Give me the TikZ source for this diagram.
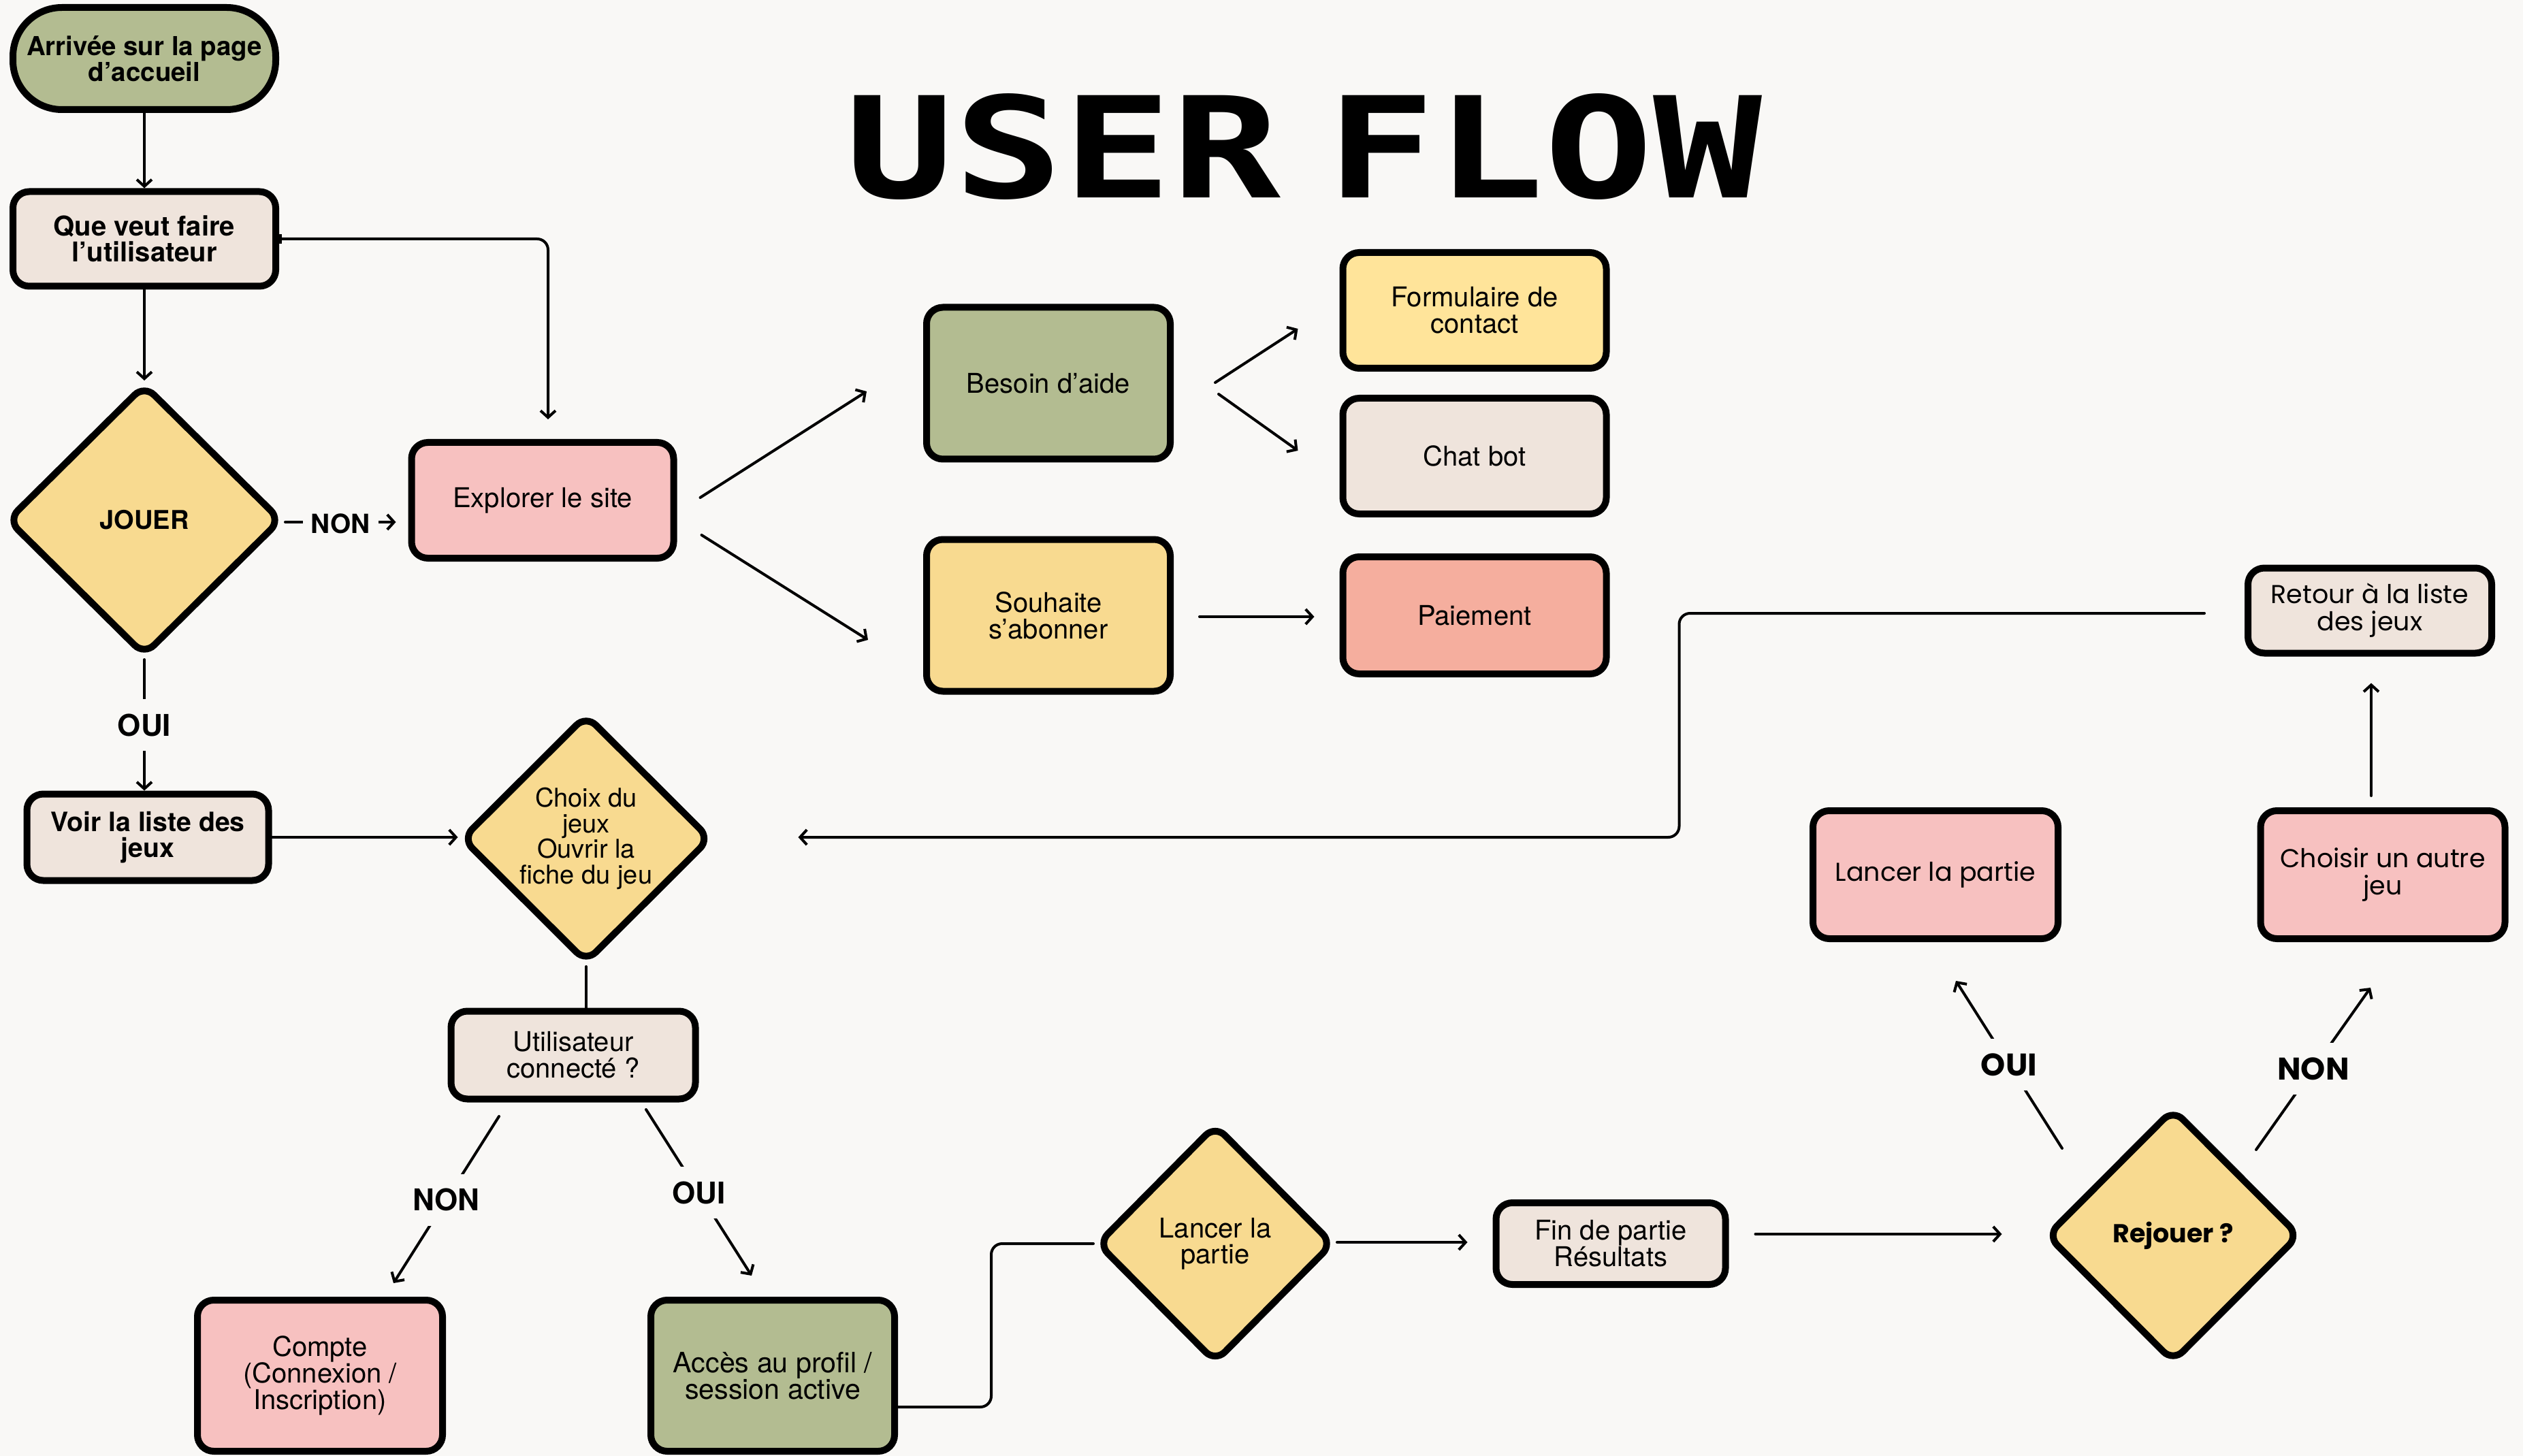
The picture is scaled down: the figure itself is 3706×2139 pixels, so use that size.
\documentclass[tikz,border=0pt]{standalone}
\usepackage{fontspec}
\usepackage{graphicx}
\setmainfont{TeX Gyre Heros}
\newfontfamily\popf{Poppins}
\newfontfamily\titlef{DejaVu Sans Mono}
\usetikzlibrary{shapes.geometric,arrows.meta,calc}
\definecolor{bgc}{HTML}{F9F8F6}
\definecolor{cOlive}{HTML}{B3BC91}
\definecolor{cBeige}{HTML}{EFE4DC}
\definecolor{cPink}{HTML}{F7C1C0}
\definecolor{cYellow}{HTML}{F8DA90}
\definecolor{cLightYellow}{HTML}{FFE49A}
\definecolor{cSalmon}{HTML}{F5AE9E}
\tikzset{
  base/.style={draw=black, line width=2.5pt, inner sep=0pt, align=center, text=black},
  box/.style={base, rectangle, rounded corners=6pt, font=\fontsize{10}{9.75}\selectfont},
  dia/.style={base, diamond, rounded corners=5pt, font=\fontsize{9.5}{9.4}\selectfont},
  pbox/.style={box, font=\popf\fontsize{9.5}{10}\selectfont},
  conn/.style={line width=1pt, line cap=round, line join=round},
  arr/.style={conn, -{Straight Barb[length=2.5pt,width=5.5pt]}},
  lab/.style={fill=bgc, inner xsep=3pt, inner ysep=5.5pt, text height=8pt, text depth=0pt, font=\fontsize{11}{11}\selectfont\bfseries},
  plab/.style={lab, font=\popf\fontsize{11.5}{11.5}\selectfont\bfseries},
}
\begin{document}
\begin{tikzpicture}[x=0.25pt,y=-0.25pt]
\fill[bgc] (0,0) rectangle (3706,2139);
\useasboundingbox (0,0) rectangle (3706,2139);

% title
\node[inner sep=0pt] (title) at (1915,215.5) {\resizebox{336.5pt}{38.25pt}{\titlef\bfseries USER\hspace{0.25em}FLOW}};

% left column
\node[box, fill=cOlive, rounded corners=18pt, minimum width=96.5pt, minimum height=37.5pt, font=\fontsize{9.6}{9.6}\selectfont\bfseries] (arrivee) at (212,86) {Arrivée sur la page\\d’accueil};
\node[box, fill=cBeige, minimum width=96.5pt, minimum height=34.75pt, font=\fontsize{10}{9.5}\selectfont\bfseries] (que) at (212,351) {Que veut faire\\l’utilisateur};
\node[dia, fill=cYellow, minimum width=101pt, minimum height=100pt, font=\fontsize{9.5}{9.5}\selectfont\bfseries] (jouer) at (212,764) {JOUER};
\node[box, fill=cPink, minimum width=96.25pt, minimum height=42.5pt] (explorer) at (797,735) {Explorer le site};
\node[box, fill=cBeige, minimum width=88.75pt, minimum height=31.75pt, font=\fontsize{9.8}{9.5}\selectfont\bfseries] (voir) at (217,1230) {Voir la liste des\\jeux};
\node[dia, fill=cYellow, minimum width=91.75pt, minimum height=91.5pt] (choix) at (861,1232) {Choix du\\jeux\\Ouvrir la\\fiche du jeu};
\node[box, fill=cBeige, minimum width=89.75pt, minimum height=32.25pt] (util) at (842,1550) {Utilisateur\\connecté ?};
\node[box, fill=cPink, minimum width=90pt, minimum height=55.5pt] (compte) at (470,2021) {Compte\\(Connexion /\\Inscription)};
\node[box, fill=cOlive, minimum width=89.5pt, minimum height=55.5pt, font=\fontsize{10.3}{9.75}\selectfont] (acces) at (1135,2021) {Accès au profil /\\session active};
\node[dia, fill=cYellow, minimum width=87pt, minimum height=87.75pt, font=\fontsize{10}{9.5}\selectfont] (lancerd) at (1785,1827) {Lancer la\\partie};
\node[box, fill=cBeige, minimum width=84.25pt, minimum height=30pt] (fin) at (2366,1827) {Fin de partie\\Résultats};

% help / subscription
\node[box, fill=cOlive, minimum width=89.5pt, minimum height=55.75pt] (besoin) at (1540,563) {Besoin d’aide};
\node[box, fill=cLightYellow, minimum width=96.75pt, minimum height=42.5pt] (formulaire) at (2166,456) {Formulaire de\\contact};
\node[box, fill=cBeige, minimum width=96.75pt, minimum height=42.5pt] (chat) at (2166,670) {Chat bot};
\node[box, fill=cYellow, minimum width=89.5pt, minimum height=55.75pt] (souhaite) at (1540,904) {Souhaite\\s’abonner};
\node[box, fill=cSalmon, minimum width=96.75pt, minimum height=43pt] (paiement) at (2166,904) {Paiement};

% right part
\node[dia, fill=cYellow, minimum width=93.25pt, minimum height=93.5pt, font=\popf\fontsize{9.5}{9.5}\selectfont\bfseries] (rejouer) at (3192,1815) {Rejouer ?};
\node[pbox, fill=cPink, minimum width=90pt, minimum height=47pt] (lancer) at (2843,1285) {Lancer la partie};
\node[pbox, fill=cPink, minimum width=89.75pt, minimum height=47pt] (choisir) at (3500,1285) {Choisir un autre\\jeu};
\node[pbox, fill=cBeige, minimum width=89.5pt, minimum height=31.25pt] (retour) at (3481,897) {Retour à la liste\\des jeux};

% connectors
\draw[arr] (arrivee) -- (que);
\draw[arr] (que) -- (jouer);
\draw[arr, rounded corners=4pt, {Bar[width=3.5pt]}-{Straight Barb[length=2.5pt,width=5.5pt]}] (que.east) -| ($(explorer.north)+(8,-29)$);
\draw[arr] ($(jouer.east)+(0,3)$) -- ($(jouer.east -| explorer.west)+(-18,3)$) node[lab, midway, font=\fontsize{9.7}{9.7}\selectfont\bfseries] {NON};
\draw[arr] (jouer.south) -- (jouer.south |- voir.north) node[lab, midway] {OUI};
\draw[arr] (voir.east) -- (voir.east -| choix.west);
\draw[conn] (choix.south) -- (choix.south |- util.north);
\draw[arr] ($(util.center)+(-109,90)$) -- ($(compte.center)+(108,-136)$) node[lab, midway] {NON};
\draw[arr] ($(util.center)+(107,80)$) -- ($(acces.center)+(-31,-147)$) node[lab, midway] {OUI};
\draw[conn, rounded corners=4pt] ($(acces.east)+(0,46)$) -| ($(lancerd.west)+(-150,0)$) -- (lancerd.west);
\draw[arr] ($(lancerd.east)+(0,-2)$) -- ($(fin.west)+(-37,-2)$);
\draw[arr] ($(fin.east)+(39,-14)$) -- ($(rejouer.west)+(-60,-2)$);
\draw[arr] ($(rejouer.center)+(-163,-128)$) -- ($(lancer.center)+(30,156)$) node[plab, midway] {OUI};
\draw[arr] ($(rejouer.center)+(122,-126)$) -- ($(choisir.center)+(-18,166)$) node[plab, midway] {NON};
\draw[arr] ($(choisir.north)+(-17,-17)$) -- ($(retour.south)+(2,39)$);
\draw[arr, rounded corners=4pt] ($(retour.west)+(-59,4)$) -| ($(choix.east)+(1417,-2)$) -- ($(choix.east)+(123,-2)$);
\draw[arr] ($(explorer.east)+(34,-4)$) -- ($(besoin.west)+(-83,12)$);
\draw[arr] ($(explorer.east)+(36,51)$) -- ($(souhaite.west)+(-81,36)$);
\draw[arr] ($(besoin.east)+(61,-1)$) -- ($(formulaire.west)+(-61,27)$);
\draw[arr] ($(besoin.east)+(66,16)$) -- ($(chat.west)+(-61,-8)$);
\draw[arr] ($(souhaite.east)+(38,2)$) -- ($(paiement.west)+(-37,2)$);
\end{tikzpicture}
\end{document}
